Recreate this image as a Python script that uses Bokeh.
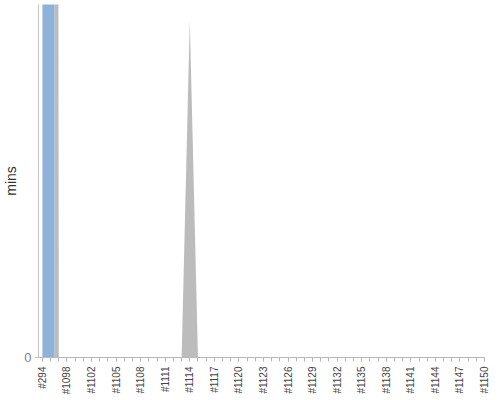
import math
from bokeh.plotting import figure
from bokeh.models import Range1d, FixedTicker
from bokeh.embed import file_html
from bokeh.resources import INLINE

# Build labels (categories along x)
builds = ["#294", "#1096", "#1097", "#1098", "#1100", "#1101", "#1102", "#1103",
          "#1104", "#1105", "#1106", "#1107", "#1108", "#1109", "#1110", "#1111",
          "#1112", "#1113", "#1114", "#1115", "#1116", "#1117", "#1118", "#1119",
          "#1120", "#1121", "#1122", "#1123", "#1124", "#1125", "#1126", "#1127",
          "#1128", "#1129", "#1130", "#1131", "#1132", "#1133", "#1134", "#1135",
          "#1136", "#1137", "#1138", "#1139", "#1140", "#1141", "#1142", "#1143",
          "#1144", "#1145", "#1146", "#1147", "#1148", "#1149", "#1150"]

# Build durations in minutes
durations = [300, 280, 0, 0, 0, 0, 0, 0,
             0, 0, 0, 0, 0, 0, 0, 0,
             0, 0, 12.6, 0, 0, 0, 0, 0,
             0, 0, 0, 0, 0, 0, 0, 0,
             0, 0, 0, 0, 0, 0, 0, 0,
             0, 0, 0, 0, 0, 0, 0, 0,
             0, 0, 0, 0, 0, 0, 0]

# Build results
results = ["SUCCESS", "SUCCESS"] + ["ABORTED"] * 53

result_colors = {"SUCCESS": "#8EB2D8", "ABORTED": "#BCBCBC"}

n = len(builds)

def top_points(k):
    pts = []
    if k > 0:
        pts.append((k - 0.5, (durations[k - 1] + durations[k]) / 2))
    pts.append((k, durations[k]))
    if k < n - 1:
        pts.append((k + 0.5, (durations[k] + durations[k + 1]) / 2))
    return pts

# group consecutive builds with same result into one polygon
runs = []
start = 0
for k in range(1, n + 1):
    if k == n or results[k] != results[start]:
        runs.append((start, k - 1))
        start = k

xs, ys, colors = [], [], []
for a, b in runs:
    xl = a - 0.5 if a > 0 else a
    xr = b + 0.5 if b < n - 1 else b
    pts = [(xl, 0)]
    for k in range(a, b + 1):
        pts.extend(top_points(k))
    pts.append((xr, 0))
    xs.append([p[0] for p in pts])
    ys.append([p[1] for p in pts])
    colors.append(result_colors[results[a]])

p = figure(width=492, height=400, output_backend="svg", toolbar_location=None,
           x_range=Range1d(-0.48, n - 1), y_range=Range1d(0, 13.2),
           min_border_left=30, min_border_right=8, min_border_top=4,
           min_border_bottom=43)
p.outline_line_color = None
p.xgrid.visible = False
p.ygrid.visible = False

p.patches(xs, ys, fill_color=colors, line_color=None)

FONT = "Liberation Sans"

xa = p.xaxis[0]
xa.axis_label = None
xa.axis_label_standoff = 0
xa.ticker = FixedTicker(ticks=list(range(0, n, 3)), minor_ticks=list(range(n)))
xa.major_label_overrides = {i: builds[i] for i in range(0, n, 3)}
xa.major_label_orientation = math.pi / 2
xa.major_label_text_font = FONT
xa.major_label_text_font_size = "10px"
xa.major_label_text_color = "#444444"
xa.major_label_standoff = 5
xa.axis_line_color = "#B8B8B8"
xa.major_tick_line_color = "#B8B8B8"
xa.minor_tick_line_color = "#B8B8B8"
xa.major_tick_out = 4
xa.major_tick_in = 0
xa.minor_tick_out = 4
xa.minor_tick_in = 0

ya = p.yaxis[0]
ya.ticker = FixedTicker(ticks=[0], minor_ticks=[])
ya.axis_label = "mins"
ya.axis_label_text_font = FONT
ya.axis_label_text_font_size = "14px"
ya.axis_label_text_font_style = "normal"
ya.axis_label_text_color = "#333333"
ya.axis_label_standoff = 2
ya.major_label_text_font = FONT
ya.major_label_text_font_size = "13px"
ya.major_label_text_color = "#808080"
ya.major_label_standoff = 3
ya.axis_line_color = "#C4C4C4"
ya.major_tick_line_color = "#C4C4C4"
ya.major_tick_out = 4
ya.major_tick_in = 0

open("out.html", "w").write(file_html(p, INLINE))
